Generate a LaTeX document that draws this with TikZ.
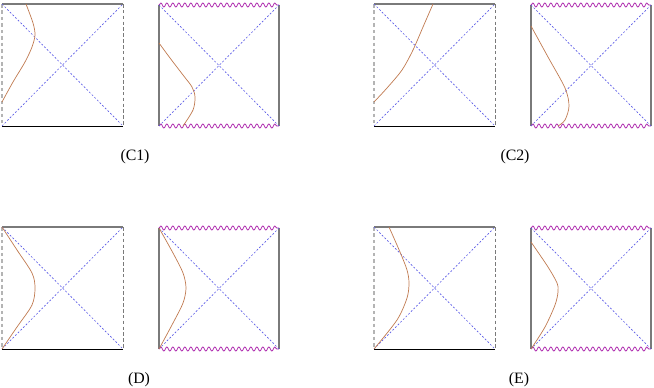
\documentclass[tikz,border=0pt]{standalone}
\usepackage{fontspec}
\setmainfont{Liberation Serif}
\usetikzlibrary{decorations.pathmorphing}
\definecolor{hzn}{HTML}{5A5AE6}
\definecolor{wall}{HTML}{7A7A7A}
\definecolor{wallfaint}{HTML}{B4B4B4}
\definecolor{sing}{HTML}{B030B0}
\definecolor{orbit}{HTML}{C07A50}
\tikzset{
  horizon/.style ={draw=hzn, line width=.55pt, dash pattern=on 1.6pt off 1.6pt},
  flattop/.style ={draw=wall, line width=1.1pt},
  flatbot/.style ={draw=black, line width=.65pt},
  sideL/.style   ={draw=wallfaint, line width=.9pt, dash pattern=on 3pt off 2.5pt},
  sideR/.style   ={draw=wall, line width=.6pt, dash pattern=on 3pt off 2pt},
  solidside/.style={draw=wall, line width=1.1pt},
  singular/.style={draw=sing, line width=.7pt, decorate,
                   decoration={snake, segment length=1.8mm, amplitude=.6mm}},
  traj/.style    ={draw=orbit, line width=.6pt},
  caption/.style ={font=\fontsize{13.5pt}{15pt}\selectfont},
}
\newcommand{\flatsq}{%
  \draw[flattop] (0,0) -- (121,0);
  \draw[flatbot] (0,122) -- (121,122);
  \draw[sideL] (0,0) -- (0,122);
  \draw[sideR] (121,0) -- (121,122);
  \draw[horizon] (0,0) -- (121,122);
  \draw[horizon] (0,122) -- (121,0);}
\newcommand{\wavysq}{%
  \draw[solidside] (0,0) -- (0,121);
  \draw[solidside] (120,0) -- (120,121);
  \draw[singular] (0,0) -- (120,0);
  \draw[singular] (0,121) -- (120,121);
  \draw[horizon] (0,0) -- (120,121);
  \draw[horizon] (0,121) -- (120,0);}
\begin{document}
\begin{tikzpicture}[x=0.3mm,y=-0.3mm]
  \useasboundingbox (0,0) rectangle (654,387);

  % (C1)
  \begin{scope}[shift={(2,4)}]
    \flatsq
    \draw[traj] plot[smooth] coordinates {(0,98) (11,78) (23,58) (30,43) (33,31) (31,19) (24,0)};
  \end{scope}
  \begin{scope}[shift={(159,5)}]
    \wavysq
    \draw[traj] plot[smooth] coordinates {(0,38) (11,53) (24,70) (33,82) (36,92) (34,105) (24,121)};
  \end{scope}
  \node[caption] (c1) at (135,157) {(C1)};

  % (C2)
  \begin{scope}[shift={(374,4)}]
    \flatsq
    \draw[traj] plot[smooth] coordinates {(0,98) (13,84) (28,66) (39,46) (49,23) (59,0)};
  \end{scope}
  \begin{scope}[shift={(531,5)}]
    \wavysq
    \draw[traj] plot[smooth] coordinates {(0,21) (17,52) (34,83) (38,101) (34,115) (27,121)};
  \end{scope}
  \node[caption] (c2) at (515,157) {(C2)};

  % (D)
  \begin{scope}[shift={(2,227)}]
    \flatsq
    \draw[traj] plot[smooth] coordinates {(0,0) (15,23) (30,46) (33,61) (30,78) (15,100) (0,122)};
  \end{scope}
  \begin{scope}[shift={(159,228)}]
    \wavysq
    \draw[traj] plot[smooth] coordinates {(0,0) (14,25) (24,45) (27,60) (24,75) (14,95) (0,121)};
  \end{scope}
  \node[caption] (d) at (139,380) {(D)};

  % (E)
  \begin{scope}[shift={(374,227)}]
    \flatsq
    \draw[traj] plot[smooth] coordinates {(15,0) (26,25) (33,43) (35,56) (33,71) (23,93) (0,122)};
  \end{scope}
  \begin{scope}[shift={(531,228)}]
    \wavysq
    \draw[traj] plot[smooth] coordinates {(0,14) (17,39) (26,55) (27,64) (24,77) (14,99) (0,121)};
  \end{scope}
  \node[caption] (e) at (519,380) {(E)};
\end{tikzpicture}
\end{document}
